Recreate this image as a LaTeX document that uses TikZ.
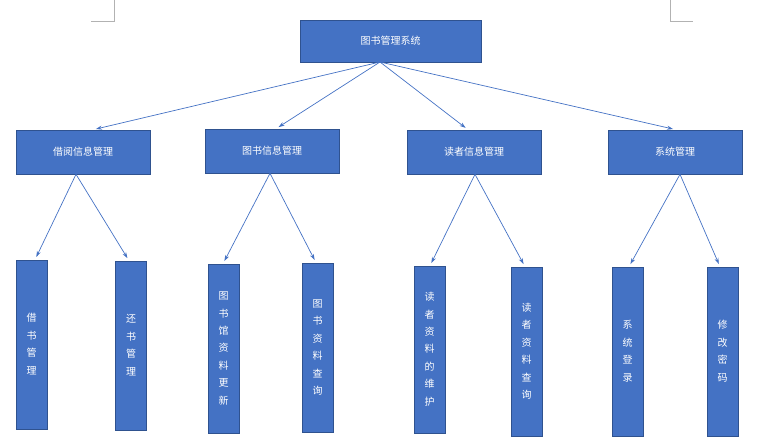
\documentclass[tikz,border=0pt]{standalone}
\usepackage{fontspec}
\newfontfamily\cjk{Noto Sans CJK SC}
\usetikzlibrary{arrows.meta}
\definecolor{bfill}{HTML}{4472C4}
\definecolor{bdraw}{HTML}{2F528F}
\tikzset{
  box/.style={draw=bdraw,fill=bfill,text=white,font=\cjk\fontsize{10}{12}\selectfont,inner sep=0pt,line width=0.6pt},
  wide/.style={box,minimum width=134pt,minimum height=44pt},
  tall/.style={box,minimum width=31pt,minimum height=169pt,align=center},
  conn/.style={draw=bfill,line width=0.7pt,-{Stealth[length=6pt,width=4pt]},shorten >=3pt},
  cropmark/.style={draw=gray!60,line width=0.5pt}
}
\newcommand{\vt}[1]{\begin{tabular}{@{}c@{}}#1\end{tabular}}
\begin{document}
\begin{tikzpicture}[x=1pt,y=-1pt]
\useasboundingbox (0,0) rectangle (768,444);
\draw[cropmark] (91,21) -- (114,21) -- (114,0);
\draw[cropmark] (670,0) -- (670,21) -- (693,21);
\node[box,minimum width=181pt,minimum height=42pt] (root) at (390.5,41) {图书管理系统};
\node[wide] (a) at (83,152) {借阅信息管理};
\node[wide] (b) at (272,151) {图书信息管理};
\node[wide] (c) at (474,152) {读者信息管理};
\node[wide] (d) at (675,152) {系统管理};
\renewcommand{\arraystretch}{1.45}
\node[tall] (a1) at (31.5,344.5) {\vt{借\\书\\管\\理}};
\node[tall] (a2) at (131,345.5) {\vt{还\\书\\管\\理}};
\node[tall] (b1) at (223.5,348.5) {\vt{图\\书\\馆\\资\\料\\更\\新}};
\node[tall] (b2) at (317.5,347.5) {\vt{图\\书\\资\\料\\查\\询}};
\node[tall,minimum height=167pt] (c1) at (429.5,349.5) {\vt{读\\者\\资\\料\\的\\维\\护}};
\node[tall] (c2) at (526.5,351.5) {\vt{读\\者\\资\\料\\查\\询}};
\node[tall] (d1) at (627.5,351.5) {\vt{系\\统\\登\\录}};
\node[tall] (d2) at (722.5,351.5) {\vt{修\\改\\密\\码}};
\coordinate (r0) at (380,62);
\foreach \t/\x in {a/93,b/276,c/468,d/676} \draw[conn] (r0) -- (\t.north -| \x,0);
\foreach \p/\px/\q/\qx/\s/\sx in {a/76/a1/35/a2/129, b/270/b1/223/b2/316, c/475/c1/430/c2/525, d/680/d1/629/d2/720}{
  \draw[conn] (\p.south -| \px,0) -- (\q.north -| \qx,0);
  \draw[conn] (\p.south -| \px,0) -- (\s.north -| \sx,0);
}
\end{tikzpicture}
\end{document}
